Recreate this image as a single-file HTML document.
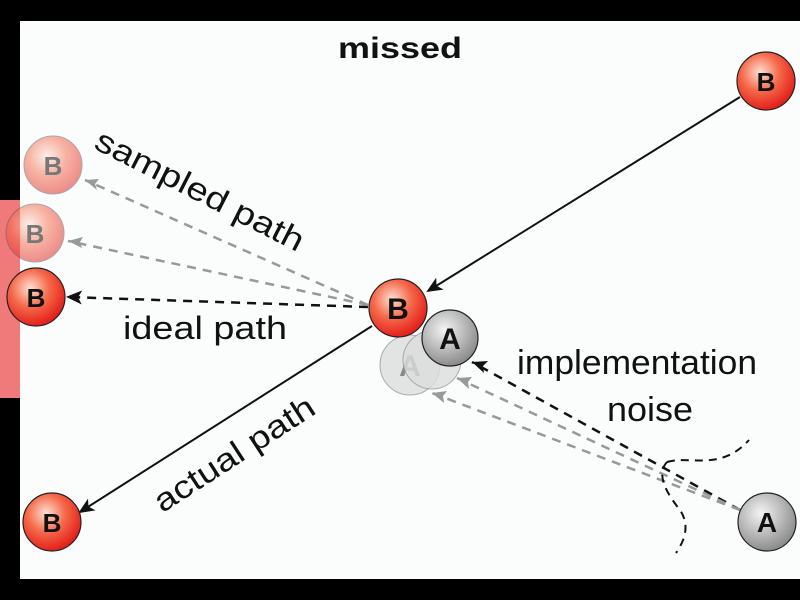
<!DOCTYPE html>
<html><head><style>html,body{margin:0;padding:0;background:#000;}svg{display:block}</style></head>
<body>
<svg width="800" height="600" viewBox="0 0 800 600" xmlns="http://www.w3.org/2000/svg" font-family="Liberation Sans, sans-serif">
<defs>
<radialGradient id="r" cx="40%" cy="35%" r="65%"><stop offset="0" stop-color="#fde0d4"/><stop offset="0.5" stop-color="#f56a4a"/><stop offset="1" stop-color="#e3201b"/></radialGradient>
<radialGradient id="g" cx="40%" cy="35%" r="65%"><stop offset="0" stop-color="#f4f4f4"/><stop offset="1" stop-color="#8c8c8c"/></radialGradient>
<marker id="al" markerWidth="16" markerHeight="14" refX="14" refY="7" orient="auto" markerUnits="userSpaceOnUse"><path d="M0,0 L16,7 L0,14 L4,7z" fill="#111"/></marker>
</defs>
<rect x="20" y="21" width="780" height="558" fill="#fbfdfd"/>
<rect x="0" y="200" width="20" height="198" fill="#f07a7a"/>
<text x="338" y="58" font-size="30" font-weight="bold" fill="#111" textLength="124" lengthAdjust="spacingAndGlyphs">missed</text>
<line x1="740" y1="97" x2="428" y2="291" stroke="#111" stroke-width="2" marker-end="url(#al)"/>
<line x1="372" y1="326" x2="80" y2="512" stroke="#111" stroke-width="2" marker-end="url(#al)"/>
<line x1="368" y1="307" x2="68" y2="297" stroke="#111" stroke-width="2.5" stroke-dasharray="9,7" marker-end="url(#al)"/>
<line x1="368" y1="305" x2="85" y2="180" stroke="#999" stroke-width="2.5" stroke-dasharray="9,7"/>
<line x1="368" y1="305" x2="68" y2="241" stroke="#999" stroke-width="2.5" stroke-dasharray="9,7"/>
<path d="M85,180 l14,-1 l-4,5 l2,6z M68,241 l15,-4 l-3,5 l2,6z" fill="#999"/>
<line x1="740" y1="510" x2="472" y2="362" stroke="#111" stroke-width="2.5" stroke-dasharray="9,7"/>
<path d="M472,362 l16,-1 l-5,5 l1,7z" fill="#111"/>
<line x1="740" y1="510" x2="457" y2="378" stroke="#999" stroke-width="2.5" stroke-dasharray="9,7"/>
<line x1="740" y1="510" x2="432" y2="393" stroke="#999" stroke-width="2.5" stroke-dasharray="9,7"/>
<path d="M457,378 l15,-1 l-4,5 l1,7z M432,393 l15,-2 l-4,5 l1,7z" fill="#999"/>
<path d="M667,462 C690,455 720,472 749,440" fill="none" stroke="#111" stroke-width="2" stroke-dasharray="8,6"/>
<path d="M667,462 C655,475 668,495 680,510 C690,525 685,540 676,553" fill="none" stroke="#111" stroke-width="2" stroke-dasharray="8,6"/>
<g font-weight="bold" font-size="26" text-anchor="middle">
<circle cx="766" cy="81" r="29" fill="url(#r)" stroke="#222" stroke-width="1.2"/><text x="766" y="91" fill="#111">B</text>
<circle cx="53" cy="165" r="29" fill="url(#r)" opacity="0.5" stroke="#555"/><text x="53" y="175" fill="#777">B</text>
<circle cx="35" cy="233" r="29" fill="url(#r)" opacity="0.5" stroke="#555"/><text x="35" y="243" fill="#777">B</text>
<circle cx="36" cy="297" r="29" fill="url(#r)" stroke="#222" stroke-width="1.2"/><text x="36" y="307" fill="#111">B</text>
<circle cx="52" cy="522" r="29" fill="url(#r)" stroke="#222" stroke-width="1.2"/><text x="52" y="532" fill="#111">B</text>
<circle cx="410" cy="365" r="30" fill="#ddd" opacity="0.8" stroke="#999"/><text x="410" y="376" fill="#888" font-size="30">A</text>
<circle cx="432" cy="360" r="29" fill="#ddd" opacity="0.8" stroke="#999"/>
<circle cx="398" cy="308" r="29" fill="url(#r)" stroke="#222" stroke-width="1.2"/><text x="398" y="319" fill="#111" font-size="30">B</text>
<circle cx="450" cy="338" r="28" fill="url(#g)" stroke="#222" stroke-width="1.2"/><text x="450" y="349" fill="#111" font-size="30">A</text>
<circle cx="767" cy="522" r="29" fill="url(#g)" stroke="#222" stroke-width="1.2"/><text x="767" y="532" fill="#111" font-size="28">A</text>
</g>
<g font-size="32" fill="#111">
<text transform="translate(195,200) rotate(27)" text-anchor="middle" textLength="230" lengthAdjust="spacingAndGlyphs">sampled path</text>
<text x="123" y="339" textLength="164" lengthAdjust="spacingAndGlyphs">ideal path</text>
<text transform="translate(240,463) rotate(-33)" text-anchor="middle" textLength="185" lengthAdjust="spacingAndGlyphs">actual path</text>
<text x="517" y="374" font-size="34" textLength="240" lengthAdjust="spacingAndGlyphs">implementation</text>
<text x="607" y="421" font-size="34" textLength="86" lengthAdjust="spacingAndGlyphs">noise</text>
</g>
</svg>
</body></html>
